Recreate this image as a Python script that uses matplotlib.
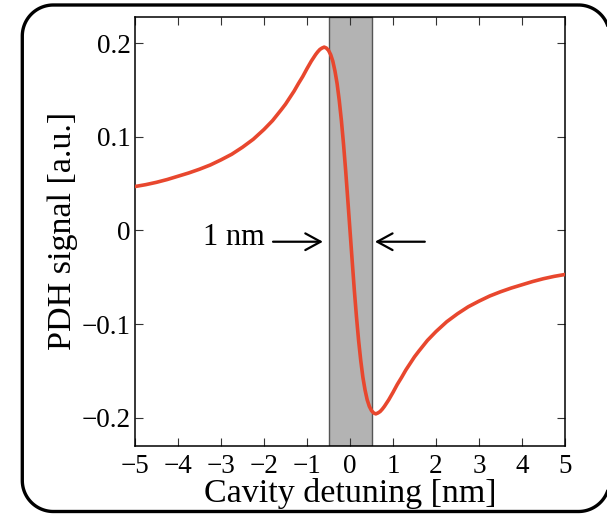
import numpy as np
import matplotlib
matplotlib.use("Agg")
import matplotlib.pyplot as plt
from matplotlib.patches import Polygon

plt.rcParams["font.family"] = ["Liberation Serif", "DejaVu Serif"]

# cavity detuning (nm) and PDH error signal (a.u.)
detuning = [-5.0, -4.75, -4.5, -4.25, -4.0, -3.75, -3.5, -3.25, -3.0, -2.75,
            -2.5, -2.25, -2.0, -1.8, -1.6, -1.5, -1.4, -1.3, -1.2, -1.1,
            -1.0, -0.9, -0.8, -0.75, -0.7, -0.65, -0.6, -0.55, -0.5, -0.45,
            -0.4, -0.35, -0.3, -0.25, -0.2, -0.15, -0.1, -0.05, 0.0,
            0.05, 0.1, 0.15, 0.2, 0.25, 0.3, 0.35, 0.4, 0.45, 0.5,
            0.55, 0.6, 0.65, 0.7, 0.75, 0.8, 0.9, 1.0, 1.1, 1.2,
            1.3, 1.4, 1.5, 1.6, 1.8, 2.0, 2.25, 2.5, 2.75, 3.0,
            3.25, 3.5, 3.75, 4.0, 4.25, 4.5, 4.75, 5.0]
pdh = [0.047, 0.049, 0.0515, 0.0545, 0.058, 0.0615, 0.0655, 0.070, 0.0755, 0.0815,
       0.089, 0.0975, 0.108, 0.1175, 0.129, 0.135, 0.142, 0.149, 0.157, 0.1645,
       0.173, 0.181, 0.188, 0.191, 0.1935, 0.195, 0.196, 0.195, 0.1925, 0.188,
       0.181, 0.1705, 0.157, 0.139, 0.1175, 0.092, 0.0635, 0.032, 0.0,
       -0.032, -0.0635, -0.092, -0.1175, -0.139, -0.157, -0.1705, -0.181, -0.188, -0.1925,
       -0.195, -0.196, -0.195, -0.1935, -0.191, -0.188, -0.181, -0.173, -0.1645, -0.157,
       -0.149, -0.142, -0.135, -0.129, -0.1175, -0.108, -0.0975, -0.089, -0.0815, -0.0755,
       -0.070, -0.0655, -0.0615, -0.058, -0.0545, -0.0515, -0.049, -0.047]

# linewidth window
band = [-0.5, 0.5]

xticks = [-5, -4, -3, -2, -1, 0, 1, 2, 3, 4, 5]
xticklabels = ["\u22125", "\u22124", "\u22123", "\u22122", "\u22121", "0", "1", "2", "3", "4", "5"]
yticks = [-0.2, -0.1, 0, 0.1, 0.2]
yticklabels = ["\u22120.2", "\u22120.1", "0", "0.1", "0.2"]

fig = plt.figure(figsize=(6.07, 5.14), dpi=100)
ax = fig.add_axes([135 / 607, 68.3 / 514, 430 / 607, 429 / 514])

ax.axvspan(band[0], band[1], facecolor="#b3b3b3", edgecolor="#555555", lw=1.0, zorder=1)
ax.plot(detuning, pdh, color="#e8472e", lw=2.6, zorder=3,
        solid_capstyle="round", solid_joinstyle="round")

# arrows marking the 1 nm width
arrow = dict(arrowstyle="->,head_length=0.55,head_width=0.3", lw=1.6, color="black",
             mutation_scale=20, shrinkA=0, shrinkB=0)
ax.annotate("", xy=(-0.63, -0.012), xytext=(-1.79, -0.012), arrowprops=arrow, zorder=4)
ax.annotate("", xy=(0.58, -0.012), xytext=(1.74, -0.012), arrowprops=arrow, zorder=4)
ax.text(-2.71, -0.0155, "1 nm", fontsize=22, ha="center", va="baseline")

ax.set_xlim(-5, 5)
ax.set_ylim(-0.230, 0.2285)
ax.set_xticks(xticks)
ax.set_xticklabels(xticklabels)
ax.set_yticks(yticks)
ax.set_yticklabels(yticklabels)
ax.tick_params(direction="in", top=True, right=True, length=5.8, width=0.8,
               color="#333333", labelsize=19.5)
ax.tick_params(axis="x", pad=6)
ax.tick_params(axis="y", pad=3)
for s in ax.spines.values():
    s.set_linewidth(1.1)
    s.set_color("black")

ax.set_xlabel("Cavity detuning [nm]", fontsize=24.5, labelpad=-1)
ax.set_ylabel("PDH signal [a.u.]", fontsize=24.5, labelpad=3)

# rounded frame around the panel (inches), right side sits just past the image edge
L, R, B, T, r = 0.223, 6.095, 0.025, 5.09, 0.31


def corner(cx, cy, a0, a1):
    t = np.radians(np.linspace(a0, a1, 40))
    return np.column_stack([cx + r * np.cos(t), cy + r * np.sin(t)])


outline = np.vstack([
    corner(R - r, T - r, 90, 0),
    corner(R - r, B + r, 0, -90),
    corner(L + r, B + r, -90, -180),
    corner(L + r, T - r, 180, 90),
])
frame = Polygon(outline, closed=True, fill=False, lw=2.4, edgecolor="black",
                joinstyle="round", transform=fig.dpi_scale_trans, clip_on=False)
fig.add_artist(frame)

fig.savefig("out.png", dpi=100)
